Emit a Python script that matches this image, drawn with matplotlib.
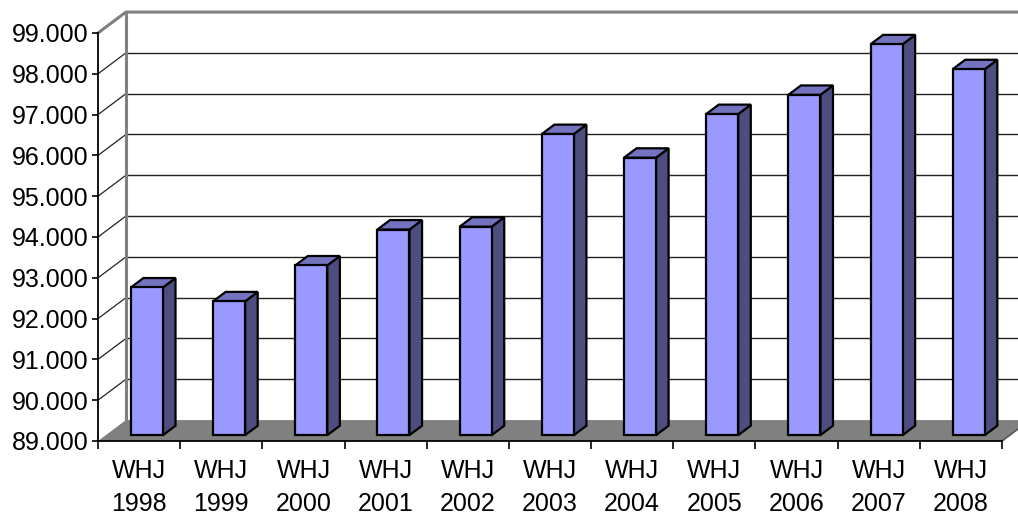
import matplotlib
matplotlib.use("Agg")
import matplotlib.pyplot as plt
from matplotlib.patches import Polygon, Rectangle

plt.rcParams["font.family"] = ["Liberation Sans", "DejaVu Sans"]

# data
years = ["1998", "1999", "2000", "2001", "2002", "2003",
         "2004", "2005", "2006", "2007", "2008"]
values = [92.62, 92.28, 93.16, 94.04, 94.11, 96.38,
          95.80, 96.87, 97.34, 98.58, 97.97]
yticks = list(range(89, 100))

ymin, ymax = 89, 99
n = len(years)

# 3d look: depth offset of back wall in data units
DX = 0.34
DY = 0.513
d0, d1 = 0.28, 0.73   # bar front / back depth fraction
bw = 0.39             # bar width

front_c = "#9999FF"
top_c = "#7373BF"
side_c = "#4D4D80"
floor_c = "#808080"
wall_edge = "#808080"

W, H = 1018, 516
fig = plt.figure(figsize=(W / 100, H / 100), dpi=100)
ax = fig.add_axes([98 / W, (H - 441) / H, (1002 - 98) / W, (441 - 33) / H])
ax.set_xlim(0, n)
ax.set_ylim(ymin, ymax)
ax.patch.set_visible(False)

# back wall gridlines
for v in yticks[1:-1]:
    ax.plot([DX, n + DX + 1], [v + DY, v + DY], color="#222222", lw=1,
            clip_on=False, zorder=1)
# left wall diagonals
for v in yticks[1:-1]:
    ax.plot([0, DX], [v, v + DY], color="#222222", lw=0.9,
            clip_on=False, zorder=1)
# wall borders
ax.plot([0, DX, n + DX + 1], [ymax, ymax + DY, ymax + DY], color=wall_edge,
        lw=2.2, clip_on=False, zorder=1.2, solid_joinstyle="miter")
ax.plot([DX, DX], [ymin + DY, ymax + DY], color=wall_edge, lw=2.2,
        clip_on=False, zorder=1.2)

# floor
floor = Polygon([(0, ymin), (n, ymin), (n + DX, ymin + DY), (DX, ymin + DY)],
                closed=True, facecolor=floor_c, edgecolor="none",
                clip_on=False, zorder=1.5)
ax.add_patch(floor)
ax.plot([n, n + DX], [ymin, ymin + DY], color="#555555", lw=1.2,
        clip_on=False, zorder=1.6)

# bars
ox0, oy0 = d0 * DX, d0 * DY
ox1, oy1 = d1 * DX, d1 * DY
for i, v in enumerate(values):
    x0 = i + 0.5 - bw / 2
    x1 = x0 + bw
    kw = dict(edgecolor="black", lw=1.6, joinstyle="miter", clip_on=False, zorder=3)
    side = Polygon([(x1 + ox0, ymin + oy0), (x1 + ox1, ymin + oy1),
                    (x1 + ox1, v + oy1), (x1 + ox0, v + oy0)],
                   closed=True, facecolor=side_c, **kw)
    top = Polygon([(x0 + ox0, v + oy0), (x1 + ox0, v + oy0),
                   (x1 + ox1, v + oy1), (x0 + ox1, v + oy1)],
                  closed=True, facecolor=top_c, **kw)
    front = Rectangle((x0 + ox0, ymin + oy0), bw, v - ymin,
                      facecolor=front_c, **kw)
    ax.add_patch(side)
    ax.add_patch(top)
    ax.add_patch(front)

# axes
for s in ["top", "right"]:
    ax.spines[s].set_visible(False)
ax.spines["left"].set_color("black")
ax.spines["left"].set_linewidth(1.3)
ax.spines["bottom"].set_color("black")
ax.spines["bottom"].set_linewidth(1.3)

ax.set_yticks(yticks)
ax.set_yticklabels([f"{v}.000" for v in yticks], fontsize=18)
ax.tick_params(axis="y", length=4.5, width=1.2, pad=2.5, colors="black")

ax.set_xticks(range(n + 1))
ax.set_xticklabels([])
ax.tick_params(axis="x", which="major", length=5.8, width=1.2)
ax.set_xticks([i + 0.5 for i in range(n)], minor=True)
ax.set_xticklabels([f"WHJ\n{y}" for y in years], minor=True, fontsize=18,
                   linespacing=1.45)
ax.tick_params(axis="x", which="minor", length=0, pad=13)

fig.savefig("out.png", dpi=100, facecolor="white")
